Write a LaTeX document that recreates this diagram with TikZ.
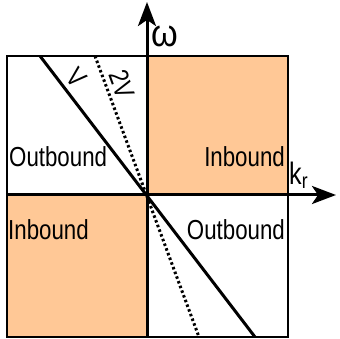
\documentclass[tikz,border=0pt]{standalone}
\usepackage{fontspec}
\setmainfont{Liberation Sans}
\usetikzlibrary{arrows.meta}
\definecolor{inb}{RGB}{255,200,150}
\newcommand{\narrow}[1]{\scalebox{0.81}[1]{#1}}
\begin{document}
\begin{tikzpicture}[x=1pt,y=-1pt,
  lbl/.style={font=\fontsize{27.5}{30}\selectfont, inner sep=0pt},
  big/.style={font=\fontsize{31}{34}\selectfont, inner sep=0pt},
  axis/.style={line width=3pt,-{Stealth[length=24pt,width=18pt,inset=6pt]}}]
\useasboundingbox (0,0) rectangle (340,339);
\coordinate (o) at (147,195);
\fill[inb] (147,56) rectangle (288,195);
\fill[inb] (7,195) rectangle (147,337);
\draw[line width=1.5pt] (7,56) rectangle (288,337);
% lines
\coordinate (s1) at (40,56);
\coordinate (s2) at (255,337);
\coordinate (d1) at (95,56);
\coordinate (d2) at (199,337);
\draw[line width=3pt] (s1) -- (s2);
\draw[line width=3pt, dash pattern=on 2.5pt off 2.5pt] (d1) -- (d2);
% axes
\coordinate (xa) at (7,195);
\coordinate (xb) at (336,195);
\coordinate (ya) at (147,337);
\coordinate (yb) at (147,2);
\draw[axis] (xa) -- (xb);
\draw[axis] (ya) -- (yb);
% labels
\node[lbl, rotate=-48] (v) at (76,78) {\narrow{V}};
\node[lbl, rotate=-70] (v2) at (122,84) {\narrow{2V}};
\node[font=\fontsize{38}{40}\selectfont, inner sep=0pt] (om) at (165,36) {\scalebox{0.9}[1]{ω}};
\node[big, anchor=base west] (kr) at (289,185) {\narrow{k\textsubscript{r}}};
\node[lbl, anchor=west] (o1) at (9,157) {\narrow{Outbound}};
\node[lbl, anchor=east] (i1) at (285,157) {\narrow{Inbound}};
\node[lbl, anchor=west] (i2) at (8,230) {\narrow{Inbound}};
\node[lbl, anchor=east] (o2) at (285,230) {\narrow{Outbound}};
\end{tikzpicture}
\end{document}
